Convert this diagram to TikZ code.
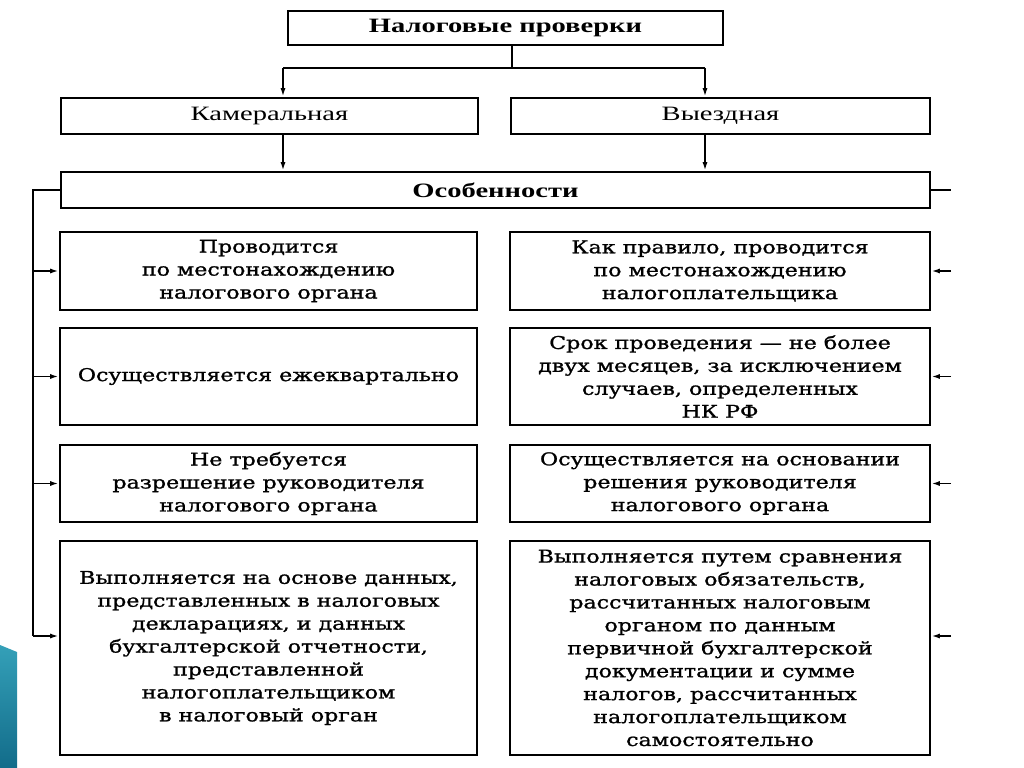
\documentclass[tikz,border=0pt]{standalone}
\usepackage{fontspec}
\setmainfont{Liberation Serif}
\newfontfamily\headfont[FakeStretch=1.4]{Liberation Serif}
\newfontfamily\boxfont[FakeStretch=1.26,FakeBold=1.2]{DejaVu Serif}
\usetikzlibrary{arrows,arrows.meta,positioning,calc}
\newdimen\px \px=0.025cm
\definecolor{decotop}{RGB}{52,160,184}
\definecolor{decobot}{RGB}{18,108,138}

\begin{document}
\begin{tikzpicture}[x=0.025cm,y=-0.025cm]
\tikzset{>={Latex[length=6pt,width=3.6pt]}}
\tikzset{box/.style={draw,line width=2pt,align=center,inner sep=0pt}}
\tikzset{head/.style={box,minimum height=36\px,font=\headfont\fontsize{14.5}{16}\selectfont}}
\tikzset{cell/.style={box,font=\boxfont\fontsize{12.5}{16.3}\selectfont}}
\tikzset{lcell/.style={cell,minimum width=417\px}}
\tikzset{rcell/.style={cell,minimum width=420\px}}
\tikzset{link/.style={line width=1.3pt}}
\useasboundingbox[fill=white] (0,0) rectangle (1024,768);
\shade[top color=decotop,bottom color=decobot] (0,645) -- (17,652) -- (17,768) -- (0,768) -- cycle;

\node[head,minimum width=435\px,minimum height=34\px] (tax) at (505.5,28) {\bfseries Налоговые проверки};
\node[head,minimum width=417\px] (desk) at (269.5,116) {Камеральная};
\node[head,minimum width=419\px] (field) at (720.5,116) {Выездная};
\node[head,minimum width=869\px] (feat) at (495.5,190) {\bfseries Особенности};

\node[lcell,minimum height=78\px] (l1) at (268.5,271) {Проводится\\по местонахождению\\налогового органа};
\node[lcell,minimum height=97\px] (l2) at (268.5,376.5) {Осуществляется ежеквартально};
\node[lcell,minimum height=77\px] (l3) at (268.5,483.5) {Не требуется\\разрешение руководителя\\налогового органа};
\node[lcell,minimum height=214\px] (l4) at (268.5,648) {Выполняется на основе данных,\\представленных в налоговых\\декларациях, и данных\\бухгалтерской отчетности,\\представленной\\налогоплательщиком\\в налоговый орган};

\node[rcell,minimum height=78\px] (r1) at (720,271) {Как правило, проводится\\по местонахождению\\налогоплательщика};
\node[rcell,minimum height=97\px] (r2) at (720,376.5) {Срок проведения — не более\\двух месяцев, за исключением\\случаев, определенных\\НК РФ};
\node[rcell,minimum height=77\px] (r3) at (720,483.5) {Осуществляется на основании\\решения руководителя\\налогового органа};
\node[rcell,minimum height=214\px] (r4) at (720,648) {Выполняется путем сравнения\\налоговых обязательств,\\рассчитанных налоговым\\органом по данным\\первичной бухгалтерской\\документации и сумме\\налогов, рассчитанных\\налогоплательщиком\\самостоятельно};

\coordinate (fork) at (512,68);
\coordinate (forkl) at (283,68);
\coordinate (forkr) at (705,68);
\draw[link] (tax.south -| fork) -- (fork);
\draw[link] (forkl) -- (forkr);
\draw[link,->] (forkl) -- (desk.north -| forkl);
\draw[link,->] (forkr) -- (field.north -| forkr);
\draw[link,->] (desk.south -| forkl) -- (feat.north -| forkl);
\draw[link,->] (field.south -| forkr) -- (feat.north -| forkr);

\coordinate (busl) at (33,636);
\coordinate (busr) at (951,190);
\coordinate (busr4) at (951,636);
\draw[link] (feat.west) -| (busl);
\foreach \r in {l1,l2,l3} \draw[link,->] (\r.west -| busl) -- (\r.west);
\draw[link,->] (busl) -- (busl -| l4.west);
\draw[link] (feat.east) -- (busr);
\foreach \r in {r1,r2,r3} \draw[link,->] (\r.east -| busr) -- (\r.east);
\draw[link,->] (busr4) -- (busr4 -| r4.east);
\end{tikzpicture}
\end{document}
